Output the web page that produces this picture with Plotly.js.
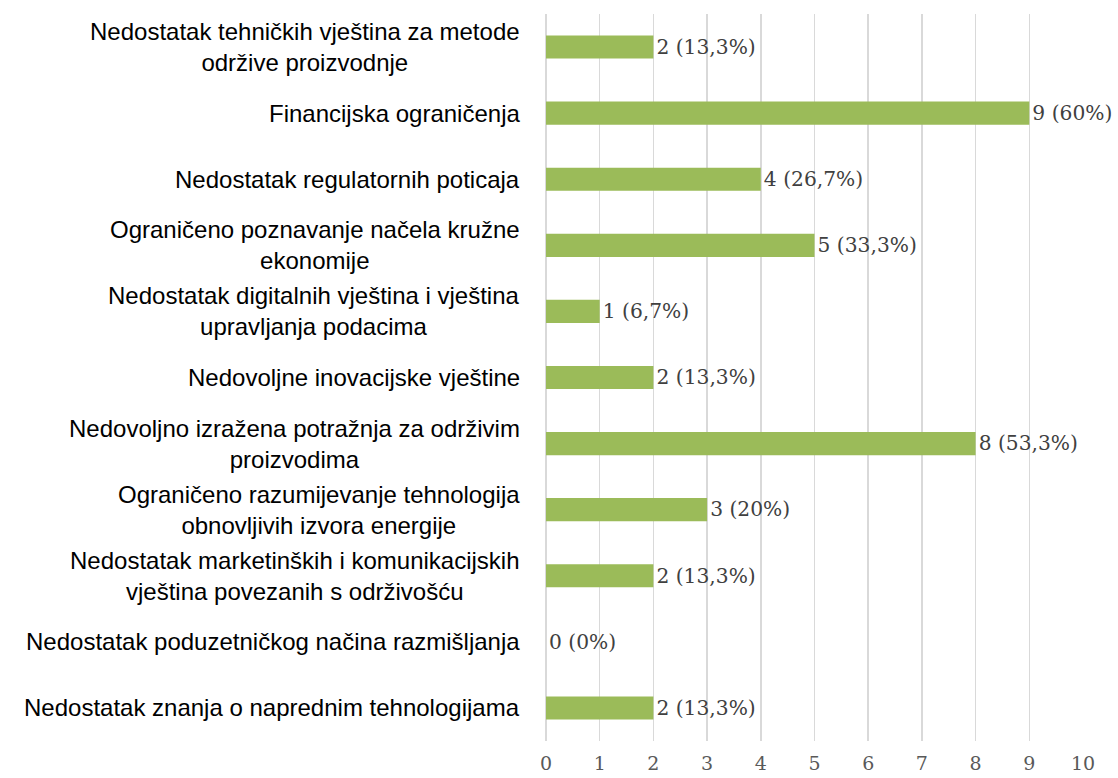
<!DOCTYPE html>
<html>
<head>
<meta charset="utf-8">
<script src="https://cdn.plot.ly/plotly-3.0.1.min.js"></script>
<style>html,body{margin:0;padding:0;background:#fff;}#chart{width:1118px;height:778px;}</style>
</head>
<body>
<div id="chart"></div>
<script>
const categories = [
  "Nedostatak tehničkih vještina za metode<br>održive proizvodnje",
  "Financijska ograničenja",
  "Nedostatak regulatornih poticaja",
  "Ograničeno poznavanje načela kružne<br>ekonomije",
  "Nedostatak digitalnih vještina i vještina<br>upravljanja podacima",
  "Nedovoljne inovacijske vještine",
  "Nedovoljno izražena potražnja za održivim<br>proizvodima",
  "Ograničeno razumijevanje tehnologija<br>obnovljivih izvora energije",
  "Nedostatak marketinških i komunikacijskih<br>vještina povezanih s održivošću",
  "Nedostatak poduzetničkog načina razmišljanja",
  "Nedostatak znanja o naprednim tehnologijama"
];
const counts = [2, 9, 4, 5, 1, 2, 8, 3, 2, 0, 2];
const percents = ["13,3%", "60%", "26,7%", "33,3%", "6,7%", "13,3%", "53,3%", "20%", "13,3%", "0%", "13,3%"];
const xTicks = [0, 1, 2, 3, 4, 5, 6, 7, 8, 9, 10];

const labels = counts.map((c, i) => c + " (" + percents[i] + ")");

const trace = {
  type: "bar",
  orientation: "h",
  y: categories,
  x: counts,
  width: 0.35,
  marker: {color: "#9BBB59"},
  text: labels,
  textposition: "outside",
  textfont: {family: "DejaVu Serif, serif", size: 21, color: "#404040"},
  cliponaxis: false,
  hoverinfo: "none"
};

const annotations = categories.map(c => ({
  xref: "paper", yref: "y", x: 0, y: c,
  xanchor: "right", yanchor: "middle", xshift: -24,
  text: c, align: "center", showarrow: false,
  font: {family: "Liberation Sans, Arial, sans-serif", size: 24, color: "#000000"}
}));

const layout = {
  width: 1118, height: 778,
  margin: {l: 546, r: 35, t: 14, b: 37},
  paper_bgcolor: "#ffffff", plot_bgcolor: "#ffffff",
  showlegend: false,
  xaxis: {
    range: [0, 10], tickvals: xTicks, ticktext: xTicks.map(String),
    showgrid: true, gridcolor: "#d9d9d9", gridwidth: 1.5,
    zeroline: true, zerolinecolor: "#d9d9d9", zerolinewidth: 1.5,
    showline: false, ticks: "", ticklabelstandoff: 9,
    tickfont: {family: "DejaVu Serif, serif", size: 19, color: "#595959"},
    fixedrange: true
  },
  yaxis: {
    type: "category", categoryorder: "array", categoryarray: categories,
    autorange: false, range: [10.5, -0.5],
    showticklabels: false, showgrid: false, zeroline: false, ticks: "",
    fixedrange: true
  },
  annotations: annotations
};

Plotly.newPlot("chart", [trace], layout, {displayModeBar: false, staticPlot: true});
</script>
</body>
</html>
